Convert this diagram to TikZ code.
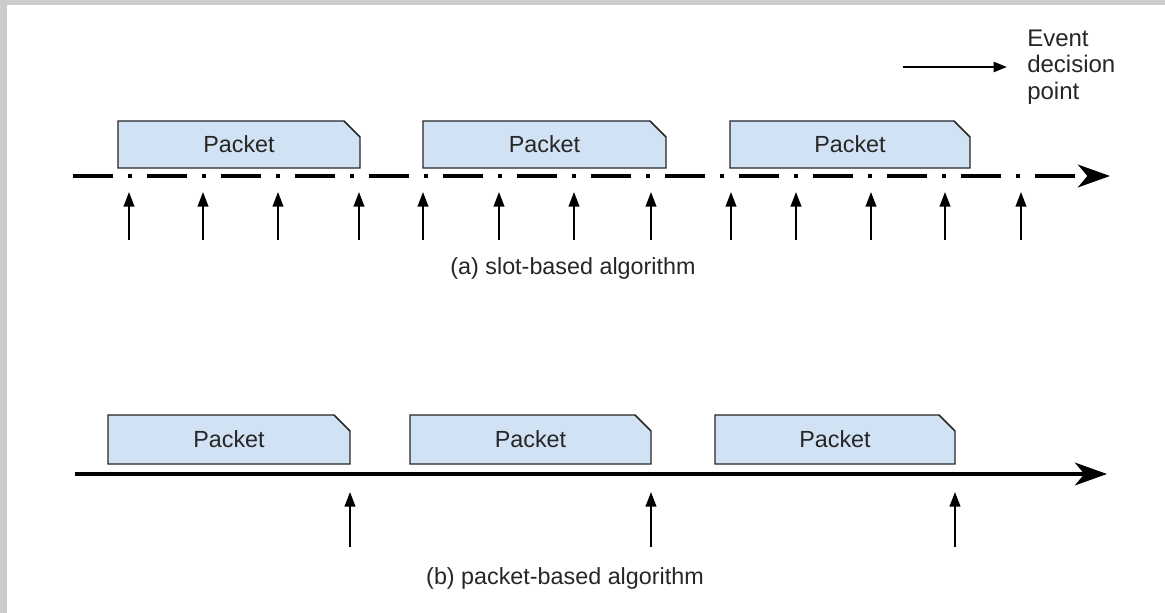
\documentclass[tikz,border=0pt]{standalone}
\usepackage{fontspec}
\setmainfont{Liberation Sans}
\usetikzlibrary{arrows.meta,shapes.misc}
\begin{document}
\begin{tikzpicture}[x=0.75pt,y=-0.75pt,
  packet/.style={chamfered rectangle, chamfered rectangle corners=north east,
    chamfered rectangle xsep=6pt, chamfered rectangle ysep=6pt,
    draw=black!85, line width=1.1pt, fill=pktblue, inner sep=0pt,
    font=\fontsize{17.5}{20}\selectfont, text=black!85},
  axis/.style={line width=3pt, -{Stealth[length=24pt,width=17pt,inset=7pt]}},
  slotaxis/.style={axis, dash pattern=on 30pt off 11.25pt on 3pt off 11.25pt},
  evarrow/.style={line width=1.5pt, -{Triangle[length=11pt,width=8pt]}},
  lbl/.style={font=\fontsize{17.5}{20}\selectfont, text=black!85, inner sep=0pt},
]
\definecolor{pktblue}{RGB}{208,226,243}
\definecolor{frame}{RGB}{204,204,204}
\useasboundingbox (0,0) rectangle (1165,613);
\fill[white] (0,0) rectangle (1165,613);
\fill[frame] (0,0) rectangle (7,613);
\fill[frame] (0,0) rectangle (1165,5);

% legend
\coordinate (l0) at (903,67);
\node[lbl, anchor=west, align=left, font=\fontsize{18}{20}\selectfont] (legend) at (1027,67) {Event\\decision\\point};
\draw[line width=1.5pt, -{Triangle[length=10pt,width=7.5pt]}, shorten >=15pt] (l0) -- (legend.west);

% (a) slot-based
\node[packet, minimum width=242*0.75pt, minimum height=47*0.75pt] (pa1) at (239,144.5) {Packet};
\node[packet, minimum width=243*0.75pt, minimum height=47*0.75pt] (pa2) at (544.5,144.5) {Packet};
\node[packet, minimum width=240*0.75pt, minimum height=47*0.75pt] (pa3) at (850,144.5) {Packet};
\coordinate (a0) at (73,176);
\coordinate (a1) at (1110,176);
\draw[slotaxis] (a0) -- (a1);
\foreach \i/\x in {1/129,2/203,3/278,4/359,5/423,6/499,7/574,8/651,9/731,10/796,11/871,12/945,13/1021}{
  \coordinate (as\i) at (\x,240);
  \coordinate (at\i) at (\x,192);
  \draw[evarrow] (as\i) -- (at\i);
}
\node[lbl] (capa) at (573,268) {(a) slot-based algorithm};

% (b) packet-based
\node[packet, minimum width=242*0.75pt, minimum height=49*0.75pt] (pb1) at (229,439.5) {Packet};
\node[packet, minimum width=241*0.75pt, minimum height=49*0.75pt] (pb2) at (530.5,439.5) {Packet};
\node[packet, minimum width=240*0.75pt, minimum height=49*0.75pt] (pb3) at (835,439.5) {Packet};
\coordinate (b0) at (75,474);
\coordinate (b1) at (1107,474);
\draw[axis] (b0) -- (b1);
\foreach \i/\x in {1/350,2/651,3/955}{
  \coordinate (bs\i) at (\x,547);
  \coordinate (bt\i) at (\x,492);
  \draw[evarrow] (bs\i) -- (bt\i);
}
\node[lbl] (capb) at (565,578) {(b) packet-based algorithm};
\end{tikzpicture}
\end{document}
